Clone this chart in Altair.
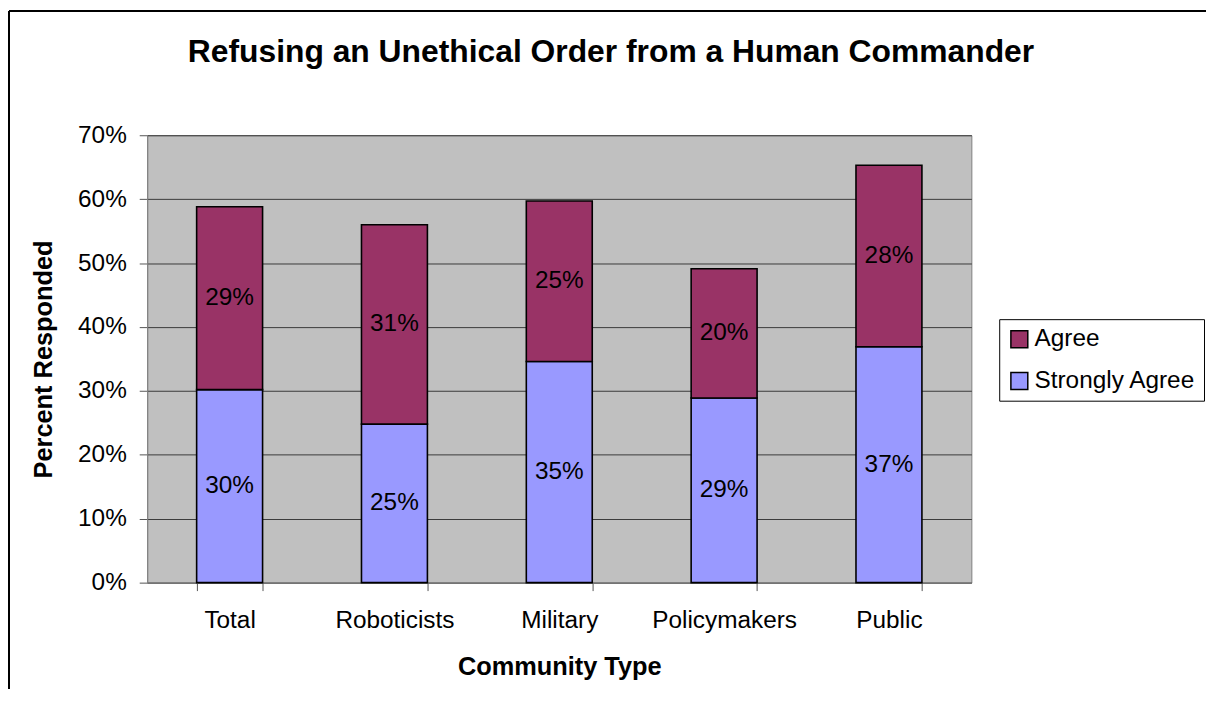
import altair as alt
import pandas as pd

categories = ["Total", "Roboticists", "Military", "Policymakers", "Public"]
strongly_agree = [0.302, 0.248, 0.346, 0.289, 0.369]
agree = [0.286, 0.312, 0.251, 0.202, 0.284]
series_names = ["Strongly Agree", "Agree"]
legend_order = ["Agree", "Strongly Agree"]
series_colors = ["#993366", "#9999FF"]
y_ticks = [0.0, 0.1, 0.2, 0.3, 0.4, 0.5, 0.6, 0.7]

rows = []
for i, c in enumerate(categories):
    rows.append({"community": c, "series": series_names[0], "value": strongly_agree[i], "order": 0})
    rows.append({"community": c, "series": series_names[1], "value": agree[i], "order": 1})
df = pd.DataFrame(rows)

FONT = "Liberation Sans"

base = alt.Chart(df).transform_stack(
    stack="value",
    groupby=["community"],
    as_=["y0", "y1"],
    sort=[alt.SortField("order", "ascending")],
).transform_calculate(mid="(datum.y0 + datum.y1) / 2")

x_enc = alt.X(
    "community:N",
    sort=categories,
    scale=alt.Scale(paddingInner=0.6, paddingOuter=0.3),
    axis=alt.Axis(
        title="Community Type",
        tickBand="extent",
        labelAngle=0,
        labelFont=FONT,
        labelFontSize=24.5,
        labelColor="black",
        labelPadding=18,
        tickSize=8,
        tickColor="#555555",
        domainColor="#808080",
        titleFont=FONT,
        titleFontSize=25.5,
        titleFontWeight="bold",
        titleColor="black",
        titlePadding=23,
        grid=False,
    ),
)

bars = base.mark_bar(stroke="black", strokeWidth=1.6).encode(
    x=x_enc,
    y=alt.Y(
        "y0:Q",
        scale=alt.Scale(domain=[0, 0.7], nice=False),
        axis=alt.Axis(
            title="Percent Responded",
            values=y_ticks,
            format=".0%",
            grid=True,
            gridColor="#3a3a3a",
            gridWidth=1,
            labelFont=FONT,
            labelFontSize=24.5,
            labelColor="black",
            labelPadding=13,
            tickSize=8,
            tickColor="#555555",
            domainColor="#808080",
            titleFont=FONT,
            titleFontSize=25.5,
            titleFontWeight="bold",
            titleColor="black",
            titleX=-104,
            titleY=225,
            titleAlign="center",
            titleBaseline="middle",
        ),
    ),
    y2="y1:Q",
    color=alt.Color(
        "series:N",
        scale=alt.Scale(domain=legend_order, range=series_colors),
        legend=alt.Legend(
            orient="none",
            legendX=857,
            legendY=185,
            title=None,
            strokeColor="black",
            fillColor="white",
            padding=8,
            symbolType="square",
            symbolSize=289,
            symbolStrokeColor="black",
            symbolStrokeWidth=1.5,
            symbolOpacity=1,
            labelFont=FONT,
            labelFontSize=24.5,
            labelColor="black",
            labelOffset=3,
            labelLimit=400,
            rowPadding=17,
        ),
    ),
)

labels = base.mark_text(font=FONT, fontSize=24.5, color="black", baseline="middle").encode(
    x=alt.X("community:N", sort=categories),
    y=alt.Y("mid:Q"),
    text=alt.Text("value:Q", format=".0%"),
)

border_top = alt.Chart(df).mark_rule(color="black", strokeWidth=1.5).encode(
    x=alt.value(-139), x2=alt.value(1065), y=alt.value(-125)
)
border_left = alt.Chart(df).mark_rule(color="black", strokeWidth=1.5).encode(
    x=alt.value(-139), y=alt.value(-125), y2=alt.value(570)
)

chart = alt.layer(bars, labels, border_top, border_left).properties(
    width=829,
    height=450,
    padding={"left": 140, "top": 126, "right": 236, "bottom": 105},
    autosize=alt.AutoSizeParams(type="none"),
    background="white",
    title=alt.TitleParams(
        text="Refusing an Unethical Order from a Human Commander",
        font=FONT,
        fontSize=32,
        fontWeight="bold",
        color="black",
        anchor="middle",
        baseline="bottom",
        dx=52,
        offset=-91,
    ),
).configure_view(
    fill="#C0C0C0", stroke="#808080", strokeWidth=1
)

chart.save("out.html", embed_options={"renderer": "svg", "actions": False})
